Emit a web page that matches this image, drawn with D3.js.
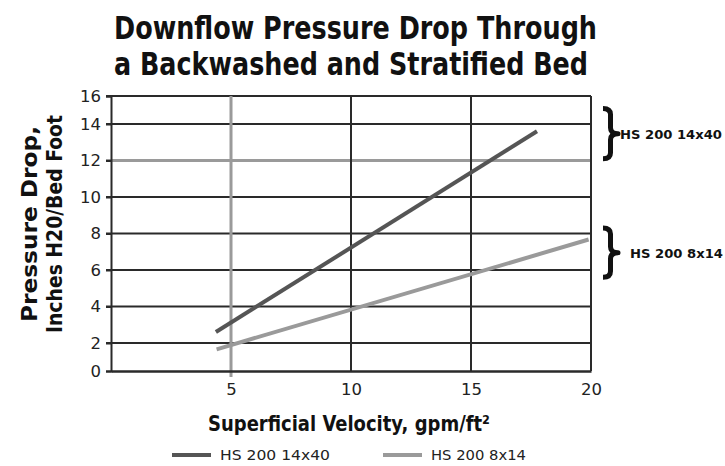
<!DOCTYPE html>
<html>
<head>
<meta charset="utf-8">
<script src="https://cdn.jsdelivr.net/npm/d3@7/dist/d3.min.js"></script>
<style>
  html, body { margin: 0; padding: 0; background: #fff; }
  svg { display: block; }
</style>
</head>
<body>
<svg id="chart" width="725" height="466"></svg>
<script>
// ---- data ----
const titleLines = ["Downflow Pressure Drop Through", "a Backwashed and Stratified Bed"];
const yTitleLines = ["Pressure Drop,", "Inches H20/Bed Foot"];
const xTitle = "Superficial Velocity, gpm/ft²";
const seriesNames = ["HS 200 14x40", "HS 200 8x14"];
const series14x40 = [{x: 4.37, y: 2.6}, {x: 17.75, y: 13.6}];
const series8x14 = [{x: 4.4, y: 1.55}, {x: 19.9, y: 7.67}];
const xTicks = [5, 10, 15, 20];
const yTicks = [0, 2, 4, 6, 8, 10, 12, 14, 16];
const xGrayGrid = [5];
const yGrayGrid = [12];
const braceRanges = [[12.1, 15.1], [5.6, 8.3]];

// ---- layout ----
const svg = d3.select("#chart");
const x = d3.scaleLinear().domain([0, 20]).range([111, 591]);
const y = d3.scaleLinear().domain([0, 2, 14, 16]).range([371, 343, 124, 96]);
const dark = "#555555", light = "#9a9a9a", gridDark = "#2a2a2a", gridGray = "#9a9a9a";

// title
svg.append("g").selectAll("text").data(titleLines).join("text")
  .attr("x", 114).attr("y", (d, i) => 39 + i * 36)
  .attr("textLength", (d, i) => i === 0 ? 483 : 474)
  .attr("lengthAdjust", "spacingAndGlyphs")
  .style("font-family", "'DejaVu Sans Condensed', 'DejaVu Sans', sans-serif")
  .style("font-weight", "bold").style("font-size", "32px").attr("fill", "#111")
  .text(d => d);

// horizontal grid lines
svg.append("g").selectAll("line").data(yTicks.filter(t => t > 0)).join("line")
  .attr("x1", x(0) - 5).attr("x2", x(20))
  .attr("y1", d => y(d)).attr("y2", d => y(d))
  .attr("stroke", d => yGrayGrid.includes(d) ? gridGray : gridDark)
  .attr("stroke-width", d => yGrayGrid.includes(d) ? 3 : 2);

// vertical grid lines
svg.append("g").selectAll("line").data(xTicks).join("line")
  .attr("x1", d => x(d)).attr("x2", d => x(d))
  .attr("y1", y(16)).attr("y2", d => xGrayGrid.includes(d) ? y(0) + 6 : y(0))
  .attr("stroke", d => xGrayGrid.includes(d) ? gridGray : gridDark)
  .attr("stroke-width", d => xGrayGrid.includes(d) ? 3 : 2);

// axes
const yAxis = d3.axisLeft(y).tickValues(yTicks).tickSize(5).tickPadding(5);
const gy = svg.append("g").attr("transform", `translate(${x(0)},0)`).call(yAxis);
gy.select(".domain").attr("stroke", gridDark).attr("stroke-width", 2);
gy.selectAll(".tick line").attr("stroke", gridDark).attr("stroke-width", 2);
gy.selectAll(".tick text")
  .style("font-family", "'DejaVu Sans', sans-serif").style("font-size", "16.5px").attr("fill", "#222");

const xAxis = d3.axisBottom(x).tickValues(xTicks).tickSize(0).tickPadding(12);
const gx = svg.append("g").attr("transform", `translate(0,${y(0)})`).call(xAxis);
gx.select(".domain").attr("stroke", gridDark).attr("stroke-width", 2.5);
gx.selectAll(".tick text")
  .style("font-family", "'DejaVu Sans', sans-serif").style("font-size", "16.5px").attr("fill", "#222");

// data lines
const line = d3.line().x(d => x(d.x)).y(d => y(d.y));
svg.append("path").datum(series8x14).attr("d", line)
  .attr("fill", "none").attr("stroke", light).attr("stroke-width", 4);
svg.append("path").datum(series14x40).attr("d", line)
  .attr("fill", "none").attr("stroke", dark).attr("stroke-width", 4);

// y title
svg.append("g").attr("transform", "translate(37,224) rotate(-90)")
  .selectAll("text").data(yTitleLines).join("text")
  .attr("x", 0).attr("y", (d, i) => i * 25)
  .attr("text-anchor", "middle")
  .attr("textLength", (d, i) => i === 0 ? 196 : 218)
  .attr("lengthAdjust", "spacingAndGlyphs")
  .style("font-family", "'DejaVu Sans Condensed', 'DejaVu Sans', sans-serif")
  .style("font-weight", "bold").style("font-size", "21px").attr("fill", "#111")
  .text(d => d);

// x title
svg.append("text").attr("x", 349).attr("y", 431).attr("text-anchor", "middle")
  .attr("textLength", 282).attr("lengthAdjust", "spacingAndGlyphs")
  .style("font-family", "'DejaVu Sans Condensed', 'DejaVu Sans', sans-serif")
  .style("font-weight", "bold").style("font-size", "21px").attr("fill", "#111")
  .text(xTitle);

// bottom legend
const legend = svg.append("g").selectAll("g").data(seriesNames).join("g")
  .attr("transform", (d, i) => `translate(${i === 0 ? 172 : 383},455)`);
legend.append("line").attr("x1", 0).attr("x2", 39).attr("y1", 0).attr("y2", 0)
  .attr("stroke", (d, i) => i === 0 ? dark : light).attr("stroke-width", 4);
legend.append("text").attr("x", 48).attr("y", 5)
  .attr("textLength", (d, i) => i === 0 ? 110 : 95)
  .attr("lengthAdjust", "spacingAndGlyphs")
  .style("font-family", "'DejaVu Sans', sans-serif").style("font-size", "14px").attr("fill", "#222")
  .text(d => d);

// right braces
const braceG = svg.append("g").selectAll("g").data(braceRanges).join("g");
braceG.append("path")
  .attr("d", d => {
    const y0 = y(d[1]), y1 = y(d[0]), ym = (y0 + y1) / 2, x0 = 603, w = 15, r = 6, xm = x0 + w / 2;
    return `M${x0},${y0} Q${xm},${y0} ${xm},${y0 + r} L${xm},${ym - r} Q${xm},${ym} ${x0 + w},${ym}` +
           ` Q${xm},${ym} ${xm},${ym + r} L${xm},${y1 - r} Q${xm},${y1} ${x0},${y1}`;
  })
  .attr("fill", "none").attr("stroke", "#111").attr("stroke-width", 5).attr("stroke-linejoin", "round");
braceG.append("text")
  .attr("x", (d, i) => i === 0 ? 620 : 630)
  .attr("y", d => (y(d[0]) + y(d[1])) / 2 + 5)
  .attr("textLength", (d, i) => i === 0 ? 102 : 93)
  .attr("lengthAdjust", "spacingAndGlyphs")
  .style("font-family", "'DejaVu Sans Condensed', 'DejaVu Sans', sans-serif")
  .style("font-weight", "bold").style("font-size", "13px").attr("fill", "#111")
  .text((d, i) => seriesNames[i]);
</script>
</body>
</html>
